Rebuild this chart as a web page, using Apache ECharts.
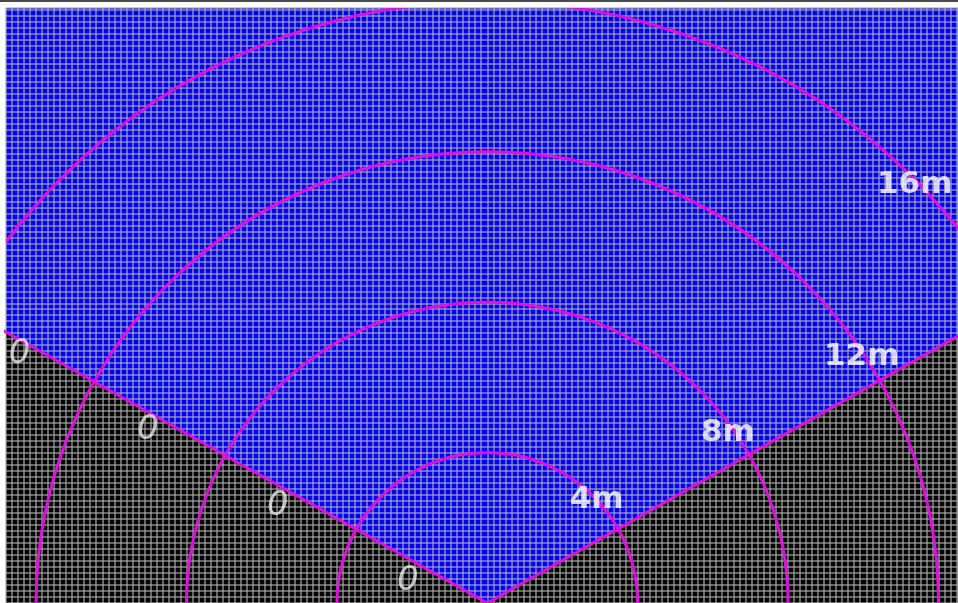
<!DOCTYPE html>
<html>
<head>
<meta charset="utf-8">
<script src="https://cdn.jsdelivr.net/npm/echarts@6/dist/echarts.min.js"></script>
<style>
html,body{margin:0;padding:0;background:#fff;}
#chart{width:958px;height:603px;}
</style>
</head>
<body>
<div id="chart"></div>
<script>
// ---- data (metres) ----
var cellSize = 0.16;                       // grid cell pitch
var xRange = [-12.8, 12.52];
var yRange = [0, 15.88];
var ringRadii = [4, 8, 12, 16];            // range rings
var ringLabels = ['4m', '8m', '12m', '16m'];
var ringLabelPos = [[2.91, 2.74], [6.40, 4.55], [9.96, 6.57], [11.37, 11.17]];
var leftRay = [[0, 0], [-14, 7.91]];
var rightRay = [[0, 0], [14, 7.97]];
var wedge = [[0, 0], [-14, 7.91], [-14, 17], [14, 17], [14, 7.97]];
var zeroLabels = ['0', '0', '0', '0'];
var zeroLabelPos = [[-12.44, 6.65], [-9.03, 4.60], [-5.57, 2.58], [-2.11, 0.585]];

var magenta = '#e010e0';

var chart = echarts.init(document.getElementById('chart'));
chart.setOption({
  animation: false,
  backgroundColor: '#fff',
  graphic: [{
    type: 'rect', shape: {x: 0, y: 0, width: 958, height: 2},
    style: {fill: '#4a4a4a'}, z: 100
  }],
  grid: {left: 6, top: 8, width: 952, height: 597, show: true,
         backgroundColor: '#000', borderWidth: 0},
  xAxis: {
    type: 'value', min: xRange[0], max: xRange[1], interval: cellSize, z: 5,
    axisLine: {show: false}, axisTick: {show: false}, axisLabel: {show: false},
    splitLine: {show: true, lineStyle: {color: 'rgba(170,170,170,0.6)', width: 2}}
  },
  yAxis: {
    type: 'value', min: yRange[0], max: yRange[1], interval: cellSize, z: 5,
    axisLine: {show: false}, axisTick: {show: false}, axisLabel: {show: false},
    splitLine: {show: true, lineStyle: {color: 'rgba(170,170,170,0.6)', width: 2}}
  },
  series: [
    {
      type: 'custom', z: 1, clip: true, silent: true,
      data: [0],
      renderItem: function (params, api) {
        var pts = wedge.map(function (p) { return api.coord(p); });
        return {type: 'polygon', shape: {points: pts}, style: {fill: '#0000ff'}};
      }
    },
    {
      type: 'custom', z: 10, clip: true, silent: true,
      data: ringRadii,
      renderItem: function (params, api) {
        var r0 = api.value(0);
        var c = api.coord([0, 0]);
        var r = api.size([r0, 0])[0];
        return {type: 'arc', shape: {cx: c[0], cy: c[1], r: r, startAngle: Math.PI, endAngle: 2 * Math.PI},
                style: {stroke: magenta, fill: null, lineWidth: 3}};
      }
    },
    {type: 'line', z: 10, data: leftRay, symbol: 'none', lineStyle: {color: magenta, width: 3}, silent: true},
    {type: 'line', z: 10, data: rightRay, symbol: 'none', lineStyle: {color: magenta, width: 3}, silent: true},
    {
      type: 'scatter', z: 12, symbolSize: 0, silent: true,
      data: ringLabelPos.map(function (p, i) { return {value: p, name: ringLabels[i]}; }),
      label: {show: true, position: 'inside', formatter: '{b}', color: '#fff',
              fontFamily: 'DejaVu Sans', fontWeight: 'bold', fontSize: 31}
    },
    {
      type: 'scatter', z: 12, symbolSize: 0, silent: true,
      data: zeroLabelPos.map(function (p, i) { return {value: p, name: zeroLabels[i]}; }),
      label: {show: true, position: 'inside', formatter: '{b}', color: '#e8e8e8',
              fontFamily: 'DejaVu Sans', fontStyle: 'italic', fontSize: 34}
    }
  ]
});
</script>
</body>
</html>
